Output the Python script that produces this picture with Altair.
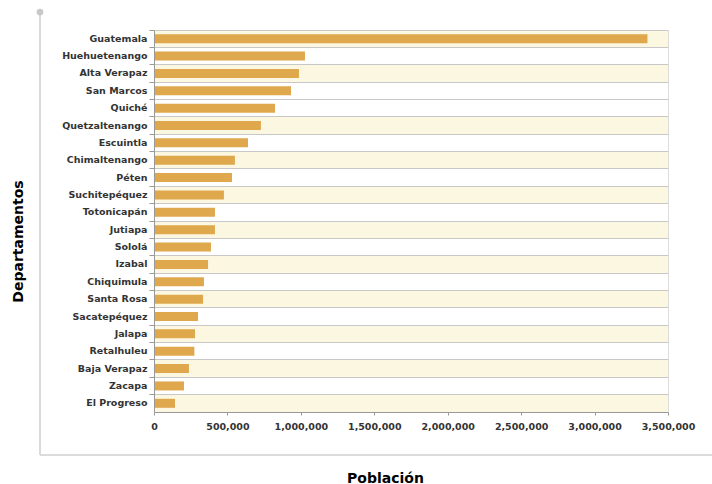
import altair as alt
import pandas as pd

departamentos = [
    "Guatemala", "Huehuetenango", "Alta Verapaz", "San Marcos", "Quiché",
    "Quetzaltenango", "Escuintla", "Chimaltenango", "Péten", "Suchitepéquez",
    "Totonicapán", "Jutiapa", "Sololá", "Izabal", "Chiquimula", "Santa Rosa",
    "Sacatepéquez", "Jalapa", "Retalhuleu", "Baja Verapaz", "Zacapa", "El Progreso",
]
poblacion = [
    3360000, 1028000, 987000, 933000, 824000,
    728000, 640000, 551000, 531000, 476000,
    415000, 415000, 388000, 368000, 340000, 334000,
    300000, 279000, 275000, 238000, 204000, 143000,
]
franja = [
    "crema", "blanco", "crema", "blanco", "blanco",
    "crema", "blanco", "crema", "blanco", "crema",
    "blanco", "crema", "blanco", "crema", "blanco", "crema",
    "blanco", "crema", "blanco", "crema", "blanco", "crema",
]
x_ticks = [0, 500000, 1000000, 1500000, 2000000, 2500000, 3000000, 3500000]

df = pd.DataFrame({"Departamento": departamentos, "Poblacion": poblacion, "Franja": franja})

W, H = 514, 382
FONT = "DejaVu Sans"

y_enc = alt.Y(
    "Departamento:N",
    sort=departamentos,
    scale=alt.Scale(paddingInner=0, paddingOuter=0),
    axis=alt.Axis(
        title="Departamentos",
        titleFont=FONT, titleFontSize=14, titleFontWeight="bold", titleColor="#000000",
        titleX=-136, titleY=211, titleBaseline="middle", titleAngle=270, titleAlign="center",
        labelFont=FONT, labelFontSize=9.5, labelFontWeight="bold", labelColor="#333333",
        labelPadding=2, tickSize=5, tickColor="#999999", domainColor="#999999",
        grid=True, gridColor="#C8C8C8", bandPosition=0,
    ),
)

fondo = alt.Chart(df).mark_rect().encode(
    y=y_enc,
    x=alt.value(0),
    x2=alt.value(W),
    color=alt.Color("Franja:N", scale=alt.Scale(domain=["crema", "blanco"], range=["#FCF7E0", "#FFFFFF"]), legend=None),
)

barras = alt.Chart(df).mark_bar(size=9, color="#DFA84C").encode(
    y=alt.Y("Departamento:N", sort=departamentos),
    x=alt.X(
        "Poblacion:Q",
        scale=alt.Scale(domain=[0, 3500000], nice=False),
        axis=alt.Axis(
            title="Población", values=x_ticks, format=",d", grid=False,
            titleFont=FONT, titleFontSize=14, titleFontWeight="bold", titleColor="#000000",
            titleX=231, titleY=66, titleBaseline="middle", titleAlign="center",
            labelFont=FONT, labelFontSize=9.5, labelFontWeight="bold", labelColor="#333333",
            labelPadding=6, tickSize=3, tickColor="#999999", domainColor="#999999",
            labelFlush=False,
        ),
    ),
)

deco = pd.DataFrame({"d": [0]})
linea_v = alt.Chart(deco).mark_rule(color="#CFCFCF", strokeWidth=1.5).encode(
    x=alt.value(-114), y=alt.value(-18), y2=alt.value(425)
)
linea_h = alt.Chart(deco).mark_rule(color="#CFCFCF", strokeWidth=1.5).encode(
    x=alt.value(-114), x2=alt.value(558), y=alt.value(425)
)
punto = alt.Chart(deco).mark_point(filled=True, color="#C8C8C8", size=45, opacity=1).encode(
    x=alt.value(-114), y=alt.value(-18)
)

chart = alt.layer(fondo, barras, linea_v, linea_h, punto).resolve_scale(color="independent").properties(
    width=W, height=H,
    autosize=alt.AutoSizeParams(type="none"),
    padding={"left": 154, "top": 30, "right": 44, "bottom": 72},
).configure_view(stroke="#999999", strokeWidth=1.5).configure(background="#FFFFFF")

chart.save("out.html", embed_options={"renderer": "svg", "actions": False})
